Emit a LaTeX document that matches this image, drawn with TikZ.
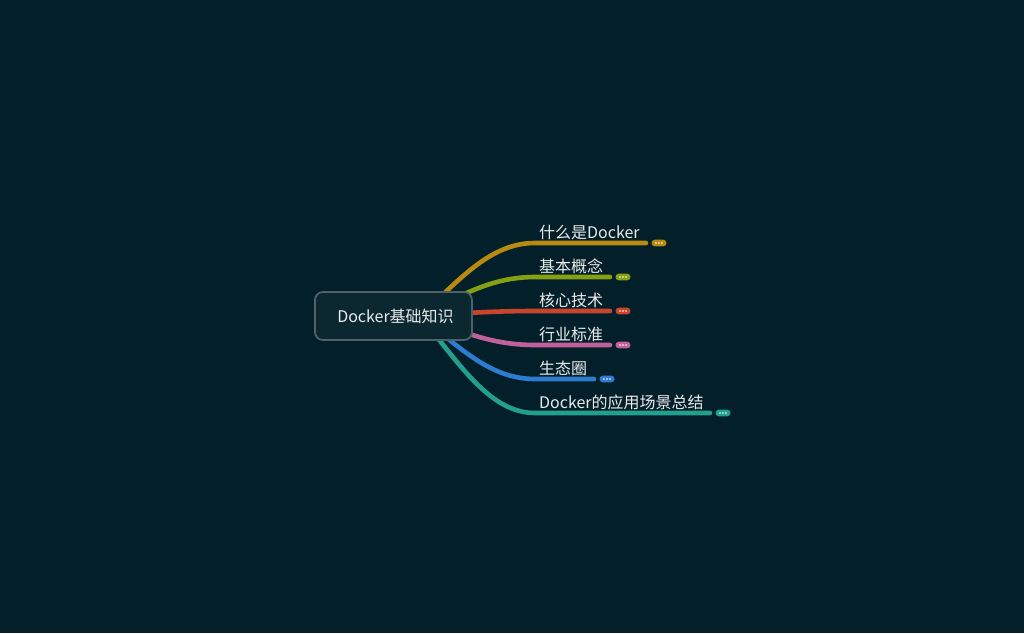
\documentclass[tikz,border=0pt]{standalone}
\usepackage{fontspec}
\setmainfont{Noto Sans CJK SC}
\begin{document}
\begin{tikzpicture}[x=1pt,y=-1pt,
  branch/.style={line width=4.6pt,line cap=round},
  lbl/.style={anchor=west,text=white!92!black,font=\fontsize{16}{18}\selectfont,inner sep=0pt},
  pill/.style={rounded corners=3.2pt,minimum width=15pt,minimum height=6.6pt,inner sep=0pt}]
\definecolor{bg}{HTML}{03202A}
\definecolor{boxfill}{HTML}{0B2730}
\definecolor{boxline}{HTML}{4E6169}
\definecolor{cA}{HTML}{B98A12}
\definecolor{cB}{HTML}{86A013}
\definecolor{cC}{HTML}{C9442B}
\definecolor{cD}{HTML}{C2609C}
\definecolor{cE}{HTML}{2C7DCF}
\definecolor{cF}{HTML}{23A08D}
\fill[bg] (0,0) rectangle (1024,633);
\useasboundingbox (0,0) rectangle (1024,633);
\coordinate (s) at (420,316);
% branches
\foreach \y/\e/\c/\n in {243/646/cA/a,277/610/cB/b,311/610/cC/c,345/610/cD/d,379/594/cE/e,413/710/cF/f}{
  \coordinate (t\n) at (535,\y);
  \coordinate (u\n) at (\e,\y);
  \draw[branch,\c] (s) .. controls (460,{(316+\y)/2}) and (490,\y) .. (t\n) -- (u\n);
  \node[pill,fill=\c] (p\n) at (\e+13,\y) {};
  \foreach \dx in {-3,0,3} \fill[white] ([xshift=\dx pt]p\n.center) circle (0.9pt);
}
% center
\node[draw=boxline,line width=1.8pt,fill=boxfill,rounded corners=8pt,minimum width=157pt,minimum height=48pt,
  text=white!92!black,font=\fontsize{16}{18}\selectfont] (root) at (393.5,316) {\hspace{4pt}Docker基础知识};
\node[lbl] (la) at (539,232) {什么是Docker};
\node[lbl] (lb) at (539,266) {基本概念};
\node[lbl] (lc) at (539,300) {核心技术};
\node[lbl] (ld) at (539,334) {行业标准};
\node[lbl] (le) at (539,368) {生态圈};
\node[lbl] (lf) at (539,402) {Docker的应用场景总结};
\end{tikzpicture}
\end{document}
